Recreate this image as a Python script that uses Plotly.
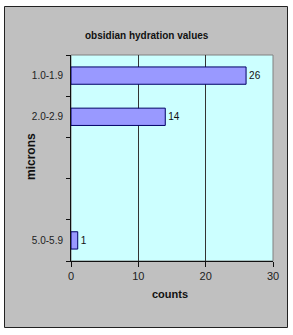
import plotly.graph_objects as go

categories = ["1.0-1.9", "2.0-2.9", "3.0-3.9", "4.0-4.9", "5.0-5.9"]
tick_labels = ["1.0-1.9", "2.0-2.9", "", "", "5.0-5.9"]
counts = [26, 14, None, None, 1]
x_ticks = [0, 10, 20, 30]

W, H = 293, 335
L, R, T, B = 71, 20, 55, 74
pw, ph = W - L - R, H - T - B

def px_x(p):
    return (p - L) / pw

def px_y(p):
    return (H - B - p) / ph

fig = go.Figure()
fig.add_trace(go.Bar(
    y=categories, x=counts, orientation="h",
    marker=dict(color="#9999ff", line=dict(color="#000066", width=1)),
    width=0.42,
    text=[("" if v is None else str(v)) for v in counts],
    textposition="outside",
    textfont=dict(family="Liberation Sans, Arial", size=10, color="#111"),
    cliponaxis=False,
))

fig.update_layout(
    width=W, height=H,
    margin=dict(l=L, r=R, t=T, b=B),
    paper_bgcolor="white",
    plot_bgcolor="rgba(0,0,0,0)",
    showlegend=False,
    font=dict(family="Liberation Sans, Arial", size=10, color="#222"),
    xaxis=dict(
        range=[0, 30], tickvals=x_ticks, ticks="outside", ticklen=5,
        tickcolor="#111", showline=True, linecolor="#111", linewidth=1,
        showgrid=True, gridcolor="#333333", gridwidth=1, zeroline=False,
        tickfont=dict(size=11, color="#222"),
    ),
    yaxis=dict(
        type="category", categoryorder="array", categoryarray=categories,
        tickvals=categories, ticktext=tick_labels,
        autorange="reversed", tickson="boundaries", ticks="outside", ticklen=4,
        ticklabelstandoff=5,
        tickcolor="#111", showline=True, linecolor="#111", linewidth=1,
        showgrid=False, tickfont=dict(size=10, color="#222"),
    ),
    shapes=[
        dict(type="rect", xref="paper", yref="paper", layer="below",
             x0=px_x(4.5), x1=px_x(287.5), y0=px_y(327.5), y1=px_y(6.5),
             fillcolor="#c0c0c0", line=dict(color="#222", width=1)),
        dict(type="rect", xref="paper", yref="paper", layer="below",
             x0=0, x1=1, y0=0, y1=1,
             fillcolor="#ccffff", line=dict(color="#808080", width=1)),
    ],
    annotations=[
        dict(text="<b>obsidian hydration values</b>", xref="paper", yref="paper",
             x=px_x(147), y=px_y(28), showarrow=False,
             font=dict(size=10, color="#111")),
        dict(text="<b>microns</b>", xref="paper", yref="paper",
             x=px_x(22), y=px_y(157), showarrow=False, textangle=-90,
             font=dict(size=12, color="#111")),
        dict(text="<b>counts</b>", xref="paper", yref="paper",
             x=px_x(170), y=px_y(302), showarrow=False,
             font=dict(size=11, color="#111")),
    ],
)

fig.write_html("out.html")
